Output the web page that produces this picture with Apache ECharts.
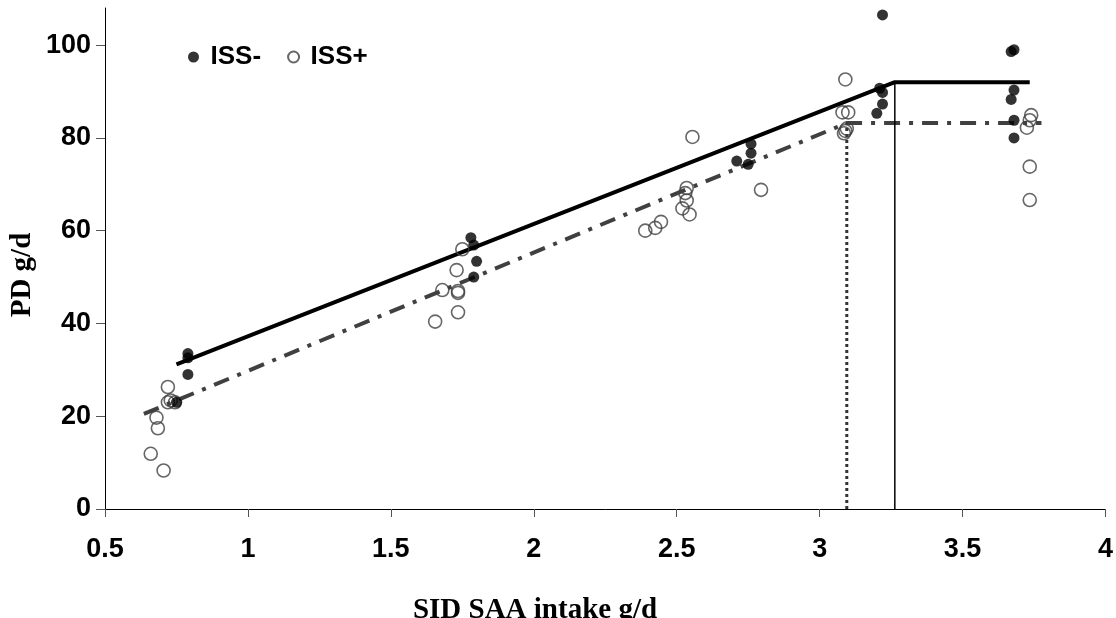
<!DOCTYPE html>
<html>
<head>
<meta charset="utf-8">
<script src="https://cdn.jsdelivr.net/npm/echarts@6/dist/echarts.min.js"></script>
<style>
  html, body { margin: 0; padding: 0; background: #fff; }
  #chart { width: 1116px; height: 618px; }
</style>
</head>
<body>
<div id="chart"></div>
<script>
// ISS- (filled dots): [SID SAA intake, PD]
const issMinus = [
  [0.79, 33.5], [0.79, 32.6], [0.79, 29.0], [0.75, 23.0],
  [1.78, 58.5], [1.79, 56.9], [1.80, 53.4], [1.79, 50.0],
  [2.76, 78.7], [2.76, 76.7], [2.71, 75.0], [2.75, 74.3],
  [3.22, 106.5], [3.21, 90.7], [3.22, 89.8], [3.22, 87.3], [3.20, 85.3],
  [3.67, 98.6], [3.68, 99.0], [3.68, 90.3], [3.67, 88.3], [3.68, 83.8], [3.68, 80.0]
];
// ISS+ (open circles)
const issPlus = [
  [0.72, 26.3], [0.72, 23.0], [0.73, 23.4], [0.745, 23.0], [0.68, 19.7], [0.685, 17.4],
  [0.66, 11.9], [0.705, 8.3],
  [1.75, 56.0], [1.73, 51.5], [1.68, 47.2], [1.735, 47.0], [1.735, 46.6], [1.735, 42.4], [1.655, 40.4],
  [2.555, 80.2], [2.795, 68.8], [2.39, 60.0], [2.425, 60.6], [2.445, 61.9],
  [2.535, 69.2], [2.53, 68.1], [2.535, 66.5], [2.52, 64.8], [2.545, 63.5],
  [3.09, 92.6], [3.08, 85.5], [3.10, 85.5], [3.095, 82.0], [3.085, 81.0], [3.09, 81.5],
  [3.74, 84.9], [3.735, 83.8], [3.725, 82.2], [3.735, 73.8], [3.735, 66.6]
];
// broken-line fits
const issMinusFit = [[0.75, 31.2], [3.263, 92.0], [3.735, 92.0]];
const issPlusFit = [[0.636, 20.5], [3.095, 83.2], [3.776, 83.2]];
// breakpoints
const issMinusBreak = [[3.263, 0], [3.263, 92.0]];
const issPlusBreak = [[3.095, 0], [3.095, 83.2]];

const chart = echarts.init(document.getElementById('chart'));

const labelFont = { color: '#000', fontFamily: 'Liberation Sans, Arial', fontWeight: 'bold', fontSize: 27 };

chart.setOption({
  animation: false,
  grid: { left: 105, right: 9, top: 8, bottom: 109 },
  legend: {
    left: 183,
    top: 39,
    itemWidth: 24,
    itemHeight: 11,
    itemGap: 26,
    data: ['ISS-', 'ISS+'],
    textStyle: { fontFamily: 'Liberation Sans, Arial', fontWeight: 'bold', fontSize: 26, color: '#000' }
  },
  xAxis: {
    type: 'value',
    min: 0.5,
    max: 4,
    interval: 0.5,
    axisLine: { lineStyle: { color: '#000', width: 1 } },
    axisTick: { show: true, length: 8, lineStyle: { color: '#555' } },
    axisLabel: Object.assign({ margin: 27 }, labelFont),
    splitLine: { show: false }
  },
  yAxis: {
    type: 'value',
    min: 0,
    max: 108,
    interval: 20,
    axisLine: { show: true, lineStyle: { color: '#000', width: 1 } },
    axisTick: { show: true, length: 9, lineStyle: { color: '#555' } },
    axisLabel: Object.assign({ margin: 14, showMaxLabel: false }, labelFont),
    splitLine: { show: false }
  },
  graphic: [
    {
      type: 'text', x: 535, y: 596,
      style: { text: 'SID SAA intake g/d', font: 'bold 29px "Liberation Serif", "Times New Roman"', fill: '#000', align: 'center', verticalAlign: 'top' }
    },
    {
      type: 'text', x: 8, y: 275, rotation: Math.PI / 2,
      style: { text: 'PD g/d', font: 'bold 29px "Liberation Serif", "Times New Roman"', fill: '#000', align: 'center', verticalAlign: 'top' }
    }
  ],
  series: [
    {
      name: 'ISS- fit', type: 'line', data: issMinusFit, symbol: 'none', silent: true,
      lineStyle: { color: '#000', width: 4 }, z: 2
    },
    {
      name: 'ISS+ fit', type: 'line', data: issPlusFit, symbol: 'none', silent: true,
      lineStyle: { color: '#404040', width: 4, type: [16, 9, 4, 9] }, z: 2
    },
    {
      name: 'ISS- break', type: 'line', data: issMinusBreak, symbol: 'none', silent: true,
      lineStyle: { color: '#000', width: 1.5 }, z: 2
    },
    {
      name: 'ISS+ break', type: 'line', data: issPlusBreak, symbol: 'none', silent: true,
      lineStyle: { color: '#333', width: 3, type: [3, 3] }, z: 2
    },
    {
      name: 'ISS-', type: 'scatter', data: issMinus, symbol: 'circle', symbolSize: 11,
      itemStyle: { color: '#000' }, z: 4
    },
    {
      name: 'ISS+', type: 'scatter', data: issPlus, symbol: 'circle', symbolSize: 13,
      itemStyle: { color: 'rgba(255,255,255,0)', borderColor: '#404040', borderWidth: 1.6 }, z: 3
    }
  ]
});
</script>
</body>
</html>
